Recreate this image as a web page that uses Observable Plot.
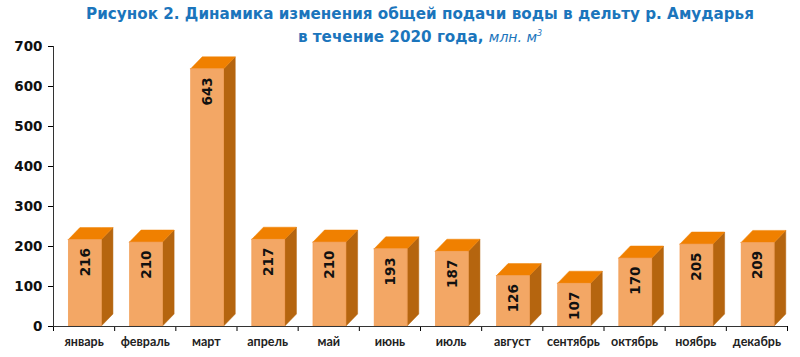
<!DOCTYPE html>
<html>
<head>
<meta charset="utf-8">
<script src="https://cdn.jsdelivr.net/npm/d3@7"></script>
<script src="https://cdn.jsdelivr.net/npm/@observablehq/plot@0.6"></script>
<style>
  html, body { margin: 0; padding: 0; background: #fff; }
  #wrap { position: relative; width: 800px; height: 357px; overflow: hidden; }
  #title { position: absolute; left: 0; top: 4px; width: 840px; text-align: center;
    font-family: "DejaVu Sans", sans-serif; font-weight: bold; font-size: 15.2px; line-height: 20px; color: #1B75BC; }
  #title .u { font-weight: normal; font-style: italic; font-size: 14px; }
  #title sup { font-size: 8px; }
  #chart { position: absolute; left: 0; top: 40px; }
</style>
</head>
<body>
<div id="wrap">
  <div id="title">Рисунок 2. Динамика изменения общей подачи воды в дельту р. Амударья<br>в течение 2020 года, <span class="u">млн. м<sup>3</sup></span></div>
  <div id="chart"></div>
</div>
<script>
const months = ["январь","февраль","март","апрель","май","июнь","июль","август","сентябрь","октябрь","ноябрь","декабрь"];
const values = [216, 210, 643, 217, 210, 193, 187, 126, 107, 170, 205, 209];
const yTicks = [0, 100, 200, 300, 400, 500, 600, 700];

const FL = -0.25, FR = 0.29;   // front face edges relative to band centre (band units)
const DX = 0.19;               // depth in x (band units)
const DY = 30;                 // depth in y (value units)

const bars = values.map((v, i) => ({i, m: months[i], v}));
const sideFace = bars.flatMap(d => [
  {i: d.i, x: d.i + FR, y1: 0, y2: d.v},
  {i: d.i, x: d.i + FR + DX, y1: DY, y2: d.v + DY}
]);
const topFace = bars.flatMap(d => [
  {i: d.i, x: d.i + FL, y1: d.v, y2: d.v},
  {i: d.i, x: d.i + FL + DX, y1: d.v, y2: d.v + DY},
  {i: d.i, x: d.i + FR, y1: d.v, y2: d.v + DY},
  {i: d.i, x: d.i + FR + DX, y1: d.v + DY, y2: d.v + DY}
]);
const boundaries = d3.range(-0.5, months.length, 1);

const chart = Plot.plot({
  width: 800,
  height: 317,
  marginTop: 6,
  marginBottom: 31,
  marginLeft: 53,
  marginRight: 13,
  style: {fontFamily: "DejaVu Sans, sans-serif", background: "transparent", overflow: "visible"},
  x: {domain: [-0.5, months.length - 0.5], ticks: boundaries, tickFormat: () => "", tickSize: 5, label: null},
  y: {domain: [0, 700], ticks: yTicks, tickSize: 5, tickPadding: 6, label: null},
  marks: [
    Plot.areaY(sideFace, {x: "x", y1: "y1", y2: "y2", z: "i", fill: "#B5650F", stroke: "#B5650F", strokeWidth: 0.5}),
    Plot.areaY(topFace, {x: "x", y1: "y1", y2: "y2", z: "i", fill: "#F08000", stroke: "#F08000", strokeWidth: 0.5}),
    Plot.rect(bars, {x1: d => d.i + FL, x2: d => d.i + FR, y1: () => 0, y2: "v", fill: "#F3A765", stroke: "#F29A4F", strokeWidth: 0.6}),
    Plot.text(bars, {x: d => d.i + (FL + FR) / 2, y: "v", text: d => String(d.v), rotate: -90, textAnchor: "end", dy: 8,
      fontWeight: "bold", fontSize: 13.5, fill: "#111"}),
    Plot.text(bars, {x: "i", y: () => 0, text: "m", dy: 15, fontFamily: "Lato, sans-serif", fontWeight: "bold", fontSize: 12.5, fill: "#222"}),
    Plot.ruleY([0], {stroke: "#333"}),
    Plot.ruleX([-0.5], {stroke: "#333"})
  ]
});
chart.querySelectorAll('g[aria-label="y-axis tick label"] text, g[aria-label="y-axis"] text').forEach(t => {
  t.setAttribute("font-weight", "bold"); t.setAttribute("font-size", "13.5"); t.setAttribute("fill", "#111");
});
document.getElementById("chart").appendChild(chart);
</script>
</body>
</html>
